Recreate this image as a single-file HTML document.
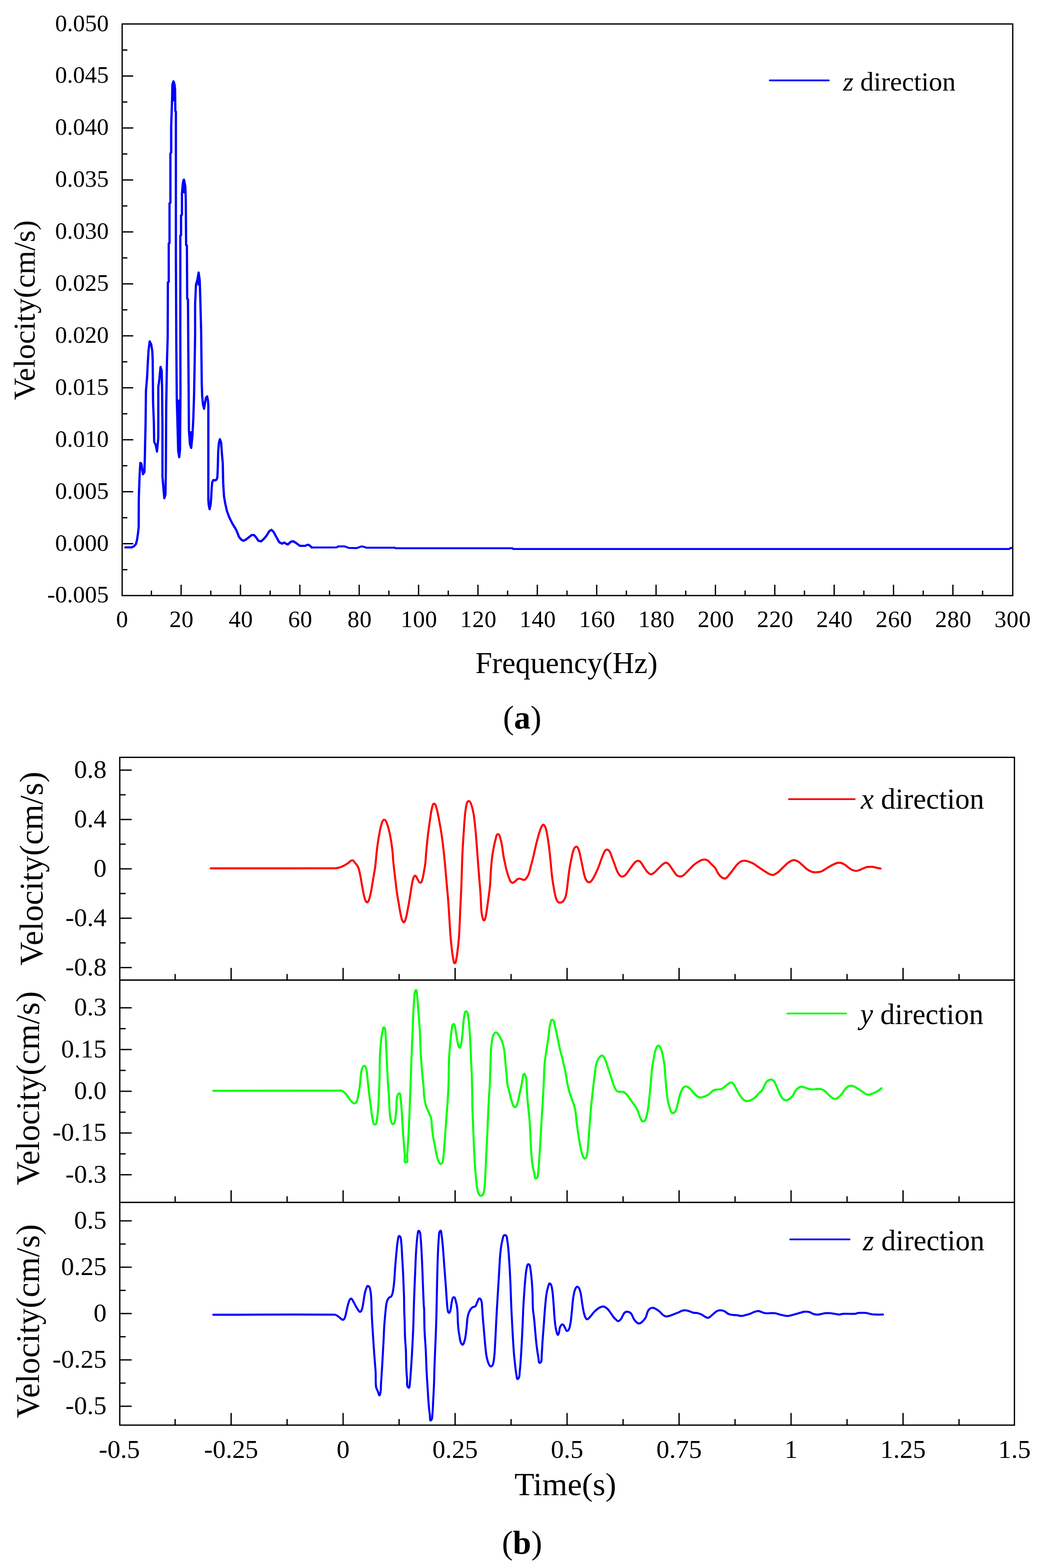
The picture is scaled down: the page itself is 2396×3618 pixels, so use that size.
<!DOCTYPE html>
<html><head><meta charset="utf-8"><style>
html,body{margin:0;padding:0;background:#fff;}
svg{display:block;}
text{font-family:'Liberation Serif','Times New Roman',serif;fill:#000;}
</style></head><body>
<svg width="2396" height="3618" viewBox="0 0 2396 3618">
<rect width="2396" height="3618" fill="#fff"/>
<polyline points="289.5,1263.0 304.4,1263.0 309.4,1260.3 314.0,1254.8 316.5,1244.6 318.5,1230.5 320.1,1216.3 320.4,1149.6 322.2,1097.7 323.9,1068.2 326.5,1070.0 330.0,1094.2 333.4,1089.0 334.3,1057.8 335.1,1016.3 336.0,979.9 336.9,902.0 339.5,870.8 341.2,836.2 342.9,808.5 345.5,787.7 349.0,794.6 351.6,810.2 352.5,832.7 353.3,928.0 355.1,973.0 355.9,1019.7 359.4,1026.7 362.4,1042.0 365.4,1009.4 365.4,893.3 368.0,874.3 370.6,846.6 373.2,855.2 374.1,896.8 375.0,979.9 375.0,1099.4 376.7,1120.2 379.3,1149.6 381.9,1141.0 382.8,1089.0 383.6,940.1 385.4,834.5 387.1,777.3 387.5,651.6 389.5,650.4 389.5,561.6 391.3,560.4 391.3,469.1 393.3,467.9 393.3,353.8 395.1,352.5 395.1,291.2 397.1,233.4 397.9,195.3 400.4,187.7 403.0,195.3 404.2,208.0 404.7,256.2 406.0,257.5 406.0,590.8 407.0,800.0 408.1,922.6 409.6,974.3 411.3,1040.0 413.7,1055.0 415.5,1037.8 416.6,904.8 416.2,770.0 416.2,543.9 417.9,542.6 417.9,497.0 420.0,495.7 420.0,446.3 422.0,423.5 424.5,414.6 427.6,428.6 428.8,459.0 429.6,565.4 431.4,566.7 432.1,689.6 433.9,690.9 434.5,783.7 435.4,892.6 436.1,994.0 438.5,1025.0 441.3,1033.5 444.2,1005.0 446.3,963.6 448.0,910.4 449.3,839.4 450.4,770.0 450.4,701.0 452.4,656.7 455.4,646.6 458.5,628.8 461.0,646.6 462.5,694.7 464.3,765.7 465.3,850.0 465.7,884.2 466.7,914.6 468.6,933.7 471.0,943.2 473.3,929.8 475.2,918.4 478.1,914.6 480.0,924.1 480.9,933.7 480.9,1154.2 481.9,1165.6 483.8,1175.1 486.2,1163.7 487.6,1146.6 488.5,1127.6 490.0,1112.4 492.3,1107.6 496.1,1108.6 499.9,1106.7 501.8,1101.0 502.8,1076.2 503.7,1042.0 505.2,1023.0 507.5,1013.5 510.4,1021.1 512.3,1047.7 514.2,1068.6 515.1,1112.4 517.0,1144.7 519.9,1161.8 523.7,1178.9 529.4,1194.1 536.0,1207.4 540.6,1215.0 543.8,1220.0 547.7,1228.3 551.5,1238.5 556.6,1244.8 561.7,1248.0 568.1,1244.8 574.4,1239.7 580.8,1234.6 586.6,1234.6 591.0,1239.7 596.1,1247.4 602.5,1249.3 608.9,1243.6 615.3,1235.9 621.6,1225.7 626.7,1222.5 631.2,1227.0 636.9,1237.2 644.6,1251.2 651.0,1254.4 656.1,1251.9 659.9,1254.4 664.4,1256.3 671.4,1250.0 676.5,1248.7 682.9,1252.5 692.4,1259.5 704.5,1259.5 709.6,1257.0 713.5,1257.6 719.8,1263.3" fill="none" stroke="#0000ff" stroke-width="5.2" stroke-linejoin="round" stroke-linecap="round"/>
<polygon points="396.5,234.0 396.5,193.0 398.2,186.5 402.2,186.5 404.0,190.0 405.0,207.0 405.8,210.0 405.8,234.0" fill="#0000ff"/>
<polygon points="420.0,446.0 420.0,420.0 421.5,414.0 422.5,412.8 425.5,412.8 427.5,415.0 429.3,428.0 429.3,446.0" fill="#0000ff"/>
<polygon points="456.0,659.0 456.0,629.0 457.5,627.0 459.5,627.0 461.0,630.0 461.5,659.0" fill="#0000ff"/>
<polygon points="408.5,922.0 417.2,922.0 417.2,1040.0 415.5,1056.0 411.5,1056.0 409.5,1040.0" fill="#0000ff"/>
<polygon points="436.2,995.0 444.5,995.0 443.5,1030.0 441.3,1034.0 438.5,1030.0" fill="#0000ff"/>
<polyline points="719.8,1263.3 777.7,1263.1 780.0,1260.8 796.1,1260.8 805.3,1264.3 823.7,1264.7 834.0,1260.8 842.0,1262.0 844.3,1263.8 912.0,1263.8 913.0,1265.0 1183.0,1265.0 1184.0,1266.7 2329.8,1266.7 2332.0,1264.6 2337.0,1264.6" fill="none" stroke="#0000ff" stroke-width="4.5" stroke-linejoin="round" stroke-linecap="round"/>
<path d="M486.3,2003.7 C581.2,2003.6 676.1,2003.9 771.0,2003.5 C774.0,2003.5 777.1,2003.3 780.0,2002.6 C783.9,2001.7 787.8,2000.3 791.5,1998.6 C795.5,1996.7 799.2,1994.3 803.0,1991.9 C806.5,1989.7 809.1,1985.0 813.2,1985.0 C816.5,1985.0 818.1,1989.4 820.2,1991.9 C822.7,1994.9 825.4,1997.9 826.9,2001.5 C829.3,2007.6 830.4,2014.2 831.7,2020.6 C833.5,2029.5 834.7,2038.5 836.4,2047.4 C837.9,2055.1 839.0,2062.9 841.2,2070.4 C842.4,2074.4 842.9,2079.8 846.6,2081.8 C848.8,2083.0 850.8,2078.5 851.7,2076.1 C854.1,2070.0 855.2,2063.4 856.5,2057.0 C858.4,2047.5 859.7,2037.9 861.3,2028.3 C862.9,2018.7 864.9,2009.2 866.1,1999.6 C868.0,1984.9 868.8,1970.1 870.7,1955.4 C872.2,1943.8 874.0,1932.1 876.2,1920.6 C877.6,1913.3 879.0,1906.0 881.6,1899.0 C882.7,1896.1 883.9,1890.8 887.0,1891.3 C890.9,1892.0 892.1,1897.4 893.5,1901.1 C896.5,1908.8 898.3,1916.9 900.0,1925.0 C902.3,1936.5 904.1,1948.1 905.5,1959.7 C906.8,1970.4 907.1,1981.2 908.2,1991.9 C909.3,2002.8 910.7,2013.6 912.0,2024.4 C913.3,2035.3 914.3,2046.2 915.8,2057.0 C917.1,2066.6 918.9,2076.1 920.6,2085.7 C922.1,2094.6 923.2,2103.6 925.4,2112.4 C926.7,2117.7 927.1,2124.0 931.1,2127.7 C932.9,2129.4 935.1,2124.3 935.9,2122.0 C938.3,2115.2 939.3,2108.0 940.7,2101.0 C942.5,2092.1 944.0,2083.2 945.5,2074.2 C947.2,2064.0 948.5,2053.8 950.3,2043.6 C951.3,2037.8 952.2,2031.9 954.1,2026.3 C954.9,2024.1 956.0,2020.1 958.3,2020.6 C961.4,2021.2 961.8,2025.8 963.7,2028.3 C965.9,2031.2 966.8,2036.9 970.4,2036.9 C973.7,2036.9 974.1,2031.4 975.1,2028.3 C977.0,2022.1 977.8,2015.5 979.0,2009.1 C980.1,2003.4 981.1,1997.7 981.8,1991.9 C982.7,1984.1 982.9,1976.2 983.6,1968.4 C984.9,1953.9 986.3,1939.4 988.0,1925.0 C989.6,1911.9 991.4,1898.9 993.4,1885.9 C994.6,1877.9 995.5,1869.8 997.7,1862.0 C998.5,1859.2 999.2,1853.8 1002.1,1854.4 C1005.7,1855.2 1006.4,1860.6 1007.5,1864.2 C1010.4,1874.1 1012.1,1884.4 1014.0,1894.6 C1016.4,1907.6 1018.7,1920.6 1020.5,1933.7 C1023.0,1952.4 1025.0,1971.2 1026.8,1990.0 C1029.6,2018.7 1032.1,2047.4 1034.4,2076.1 C1035.6,2090.7 1036.3,2105.4 1037.3,2120.0 C1038.2,2133.7 1038.9,2147.4 1040.0,2161.0 C1040.9,2172.4 1042.1,2183.7 1043.5,2195.0 C1044.3,2201.4 1045.1,2207.8 1046.5,2214.0 C1047.2,2217.0 1046.8,2222.5 1049.8,2222.5 C1052.8,2222.5 1052.3,2217.0 1053.0,2214.0 C1054.4,2207.7 1055.2,2201.4 1056.0,2195.0 C1057.4,2183.7 1058.7,2172.4 1059.5,2161.0 C1060.5,2147.4 1060.9,2133.7 1061.5,2120.0 C1062.2,2105.3 1062.8,2090.7 1063.5,2076.0 C1064.0,2064.0 1064.7,2052.0 1065.1,2040.0 C1065.8,2020.1 1066.3,2000.2 1067.0,1980.3 C1067.3,1971.3 1067.8,1962.2 1068.3,1953.2 C1069.3,1936.7 1070.3,1920.3 1071.5,1903.8 C1072.2,1894.0 1072.8,1884.2 1074.0,1874.4 C1074.9,1867.1 1075.7,1859.8 1077.9,1852.8 C1078.5,1850.8 1080.3,1847.8 1082.3,1848.3 C1085.1,1849.0 1086.4,1852.6 1087.4,1855.3 C1090.1,1862.7 1091.8,1870.5 1093.2,1878.3 C1094.8,1886.7 1095.4,1895.3 1096.4,1903.8 C1097.3,1912.3 1098.2,1920.8 1098.9,1929.3 C1099.6,1937.8 1100.2,1946.3 1100.8,1954.8 C1101.4,1963.3 1102.1,1971.8 1102.7,1980.3 C1103.3,1988.8 1104.0,1997.3 1104.6,2005.8 C1105.3,2014.3 1105.9,2022.8 1106.6,2031.3 C1107.3,2040.3 1108.3,2049.3 1108.9,2058.3 C1109.9,2073.5 1110.1,2088.7 1111.4,2103.8 C1111.8,2108.5 1112.7,2113.2 1114.0,2117.8 C1114.6,2119.9 1115.0,2123.5 1117.2,2123.5 C1119.4,2123.5 1119.8,2119.9 1120.4,2117.8 C1121.9,2112.4 1122.6,2106.8 1123.5,2101.2 C1124.7,2093.6 1125.6,2085.9 1126.7,2078.3 C1127.6,2071.9 1128.5,2065.5 1129.3,2059.1 C1130.1,2052.7 1130.9,2046.4 1131.4,2040.0 C1132.3,2028.6 1132.4,2017.2 1133.3,2005.8 C1134.1,1995.1 1135.1,1984.5 1136.5,1973.9 C1137.5,1966.6 1138.9,1959.4 1140.4,1952.2 C1141.5,1946.7 1142.5,1941.1 1144.2,1935.7 C1145.4,1931.9 1145.3,1925.3 1149.3,1924.8 C1153.0,1924.4 1153.8,1930.9 1155.0,1934.4 C1157.0,1940.1 1157.8,1946.2 1158.9,1952.2 C1160.2,1959.4 1160.8,1966.7 1162.0,1973.9 C1163.1,1980.3 1164.5,1986.7 1165.9,1993.1 C1167.1,1998.6 1168.2,2004.2 1169.7,2009.6 C1171.0,2014.4 1172.5,2019.1 1174.2,2023.7 C1175.5,2027.2 1176.5,2030.9 1178.6,2033.9 C1179.8,2035.5 1181.7,2037.3 1183.7,2037.1 C1186.3,2036.8 1188.0,2034.2 1190.1,2032.6 C1191.9,2031.2 1193.2,2029.1 1195.2,2028.1 C1196.7,2027.3 1198.6,2027.3 1200.3,2027.5 C1202.1,2027.7 1203.6,2029.0 1205.4,2029.4 C1207.3,2029.8 1209.3,2030.7 1211.1,2030.0 C1213.1,2029.3 1214.4,2027.3 1215.6,2025.6 C1217.6,2022.6 1219.5,2019.4 1220.7,2016.0 C1222.9,2009.8 1224.1,2003.3 1225.8,1996.9 C1227.5,1990.5 1229.3,1984.2 1230.9,1977.8 C1232.7,1970.2 1234.2,1962.4 1236.0,1954.8 C1237.6,1948.0 1239.3,1941.2 1241.1,1934.4 C1242.5,1929.3 1243.9,1924.1 1245.6,1919.1 C1247.0,1914.9 1248.3,1910.6 1250.5,1906.8 C1251.5,1905.1 1253.2,1902.0 1254.9,1903.0 C1258.0,1904.8 1259.1,1909.0 1260.1,1912.5 C1262.5,1920.6 1263.6,1929.1 1264.9,1937.4 C1266.4,1946.9 1267.6,1956.5 1268.7,1966.1 C1269.8,1975.7 1270.6,1985.2 1271.6,1994.8 C1272.5,2004.4 1273.2,2014.0 1274.4,2023.5 C1275.4,2031.8 1276.8,2040.1 1278.3,2048.4 C1279.7,2056.1 1280.8,2063.8 1283.0,2071.3 C1284.0,2074.7 1285.4,2078.3 1287.8,2080.9 C1289.2,2082.4 1291.6,2083.1 1293.6,2082.8 C1296.1,2082.4 1298.7,2081.0 1300.3,2079.0 C1303.0,2075.7 1304.9,2071.6 1306.0,2067.5 C1308.1,2059.4 1308.7,2050.9 1309.8,2042.6 C1310.9,2034.3 1311.6,2026.0 1312.7,2017.7 C1313.5,2011.3 1314.5,2004.9 1315.6,1998.6 C1316.7,1992.2 1318.0,1985.8 1319.4,1979.5 C1320.8,1973.1 1321.6,1966.4 1324.2,1960.4 C1325.4,1957.6 1327.3,1953.7 1330.3,1953.7 C1333.2,1953.7 1334.7,1957.7 1335.7,1960.4 C1338.1,1966.5 1339.0,1973.1 1340.4,1979.5 C1342.1,1987.1 1343.5,1994.8 1345.2,2002.4 C1346.7,2009.4 1347.8,2016.6 1350.0,2023.5 C1351.1,2026.9 1352.6,2030.2 1354.8,2033.0 C1356.1,2034.6 1358.1,2036.2 1360.1,2035.9 C1362.7,2035.5 1364.7,2033.2 1366.3,2031.1 C1369.4,2027.0 1371.6,2022.3 1373.9,2017.7 C1376.7,2012.1 1379.3,2006.3 1381.6,2000.5 C1384.4,1993.6 1386.5,1986.4 1389.2,1979.5 C1391.2,1974.3 1392.9,1968.9 1395.9,1964.2 C1397.1,1962.3 1399.1,1960.2 1401.3,1960.4 C1403.9,1960.6 1406.1,1962.9 1407.4,1965.1 C1410.1,1969.5 1411.2,1974.7 1413.1,1979.5 C1415.1,1984.6 1417.0,1989.7 1418.9,1994.8 C1420.8,1999.9 1422.2,2005.2 1424.6,2010.1 C1426.4,2013.8 1428.3,2017.8 1431.3,2020.6 C1433.0,2022.2 1435.7,2023.0 1438.0,2022.5 C1440.7,2021.9 1442.8,2019.7 1444.7,2017.7 C1447.7,2014.5 1449.8,2010.7 1452.4,2007.2 C1454.9,2003.7 1457.3,2000.1 1460.0,1996.7 C1462.1,1994.0 1464.1,1991.1 1466.7,1989.0 C1468.5,1987.6 1470.7,1986.0 1473.0,1986.2 C1475.4,1986.4 1477.6,1988.2 1479.2,1990.0 C1482.3,1993.4 1484.2,1997.7 1486.8,2001.5 C1489.3,2005.1 1491.5,2008.9 1494.5,2012.0 C1496.8,2014.3 1499.3,2017.0 1502.5,2017.4 C1505.1,2017.7 1507.6,2015.5 1509.7,2013.9 C1513.3,2011.1 1516.1,2007.6 1519.3,2004.4 C1521.9,2001.8 1524.2,1999.0 1527.0,1996.7 C1529.9,1994.3 1532.8,1991.2 1536.5,1990.6 C1539.1,1990.2 1541.8,1992.3 1543.6,1994.2 C1547.9,1998.7 1550.7,2004.4 1554.4,2009.4 C1557.2,2013.1 1559.5,2017.3 1563.1,2020.2 C1565.2,2021.8 1568.1,2022.6 1570.7,2022.4 C1573.5,2022.2 1576.1,2020.8 1578.3,2019.1 C1582.3,2016.0 1585.5,2011.9 1589.1,2008.3 C1593.4,2004.0 1597.5,1999.3 1602.1,1995.3 C1605.5,1992.4 1609.1,1989.8 1613.0,1987.7 C1616.4,1985.8 1619.9,1983.7 1623.8,1983.3 C1627.1,1982.9 1630.7,1983.9 1633.6,1985.5 C1636.7,1987.3 1638.7,1990.6 1641.2,1993.1 C1644.4,1996.4 1648.2,1999.2 1650.9,2002.9 C1653.6,2006.5 1654.8,2011.1 1657.4,2014.8 C1659.9,2018.4 1662.5,2022.0 1666.1,2024.5 C1668.6,2026.2 1672.0,2027.8 1674.8,2026.7 C1678.6,2025.3 1680.7,2021.1 1683.4,2018.0 C1687.3,2013.5 1690.6,2008.6 1694.3,2004.0 C1697.2,2000.3 1699.6,1996.3 1703.0,1993.1 C1705.8,1990.4 1709.1,1988.0 1712.7,1986.6 C1715.1,1985.7 1717.8,1985.9 1720.3,1986.2 C1723.7,1986.6 1726.9,1987.7 1730.1,1988.8 C1733.5,1990.0 1736.9,1991.4 1740.0,1993.2 C1743.8,1995.4 1747.2,1998.3 1750.8,2000.8 C1755.1,2003.8 1759.5,2006.7 1763.9,2009.5 C1767.4,2011.8 1770.9,2014.2 1774.7,2016.0 C1777.4,2017.3 1780.4,2019.1 1783.4,2018.8 C1787.3,2018.4 1791.0,2016.1 1794.2,2013.8 C1799.0,2010.4 1802.9,2005.9 1807.2,2001.9 C1811.5,1997.9 1815.4,1993.3 1820.2,1990.0 C1823.8,1987.5 1827.8,1985.0 1832.2,1984.6 C1835.6,1984.3 1839.0,1986.1 1841.9,1987.8 C1845.9,1990.1 1849.2,1993.5 1852.7,1996.5 C1856.4,1999.6 1859.6,2003.4 1863.6,2006.2 C1866.9,2008.5 1870.5,2010.5 1874.4,2011.7 C1877.9,2012.7 1881.7,2012.9 1885.3,2012.7 C1889.0,2012.5 1892.7,2012.0 1896.1,2010.6 C1900.7,2008.7 1904.8,2005.5 1909.1,2003.0 C1913.4,2000.5 1917.6,1997.6 1922.1,1995.4 C1925.6,1993.7 1929.2,1991.9 1933.0,1991.1 C1935.8,1990.5 1938.8,1990.4 1941.6,1991.1 C1944.7,1991.9 1947.6,1993.6 1950.3,1995.4 C1954.9,1998.4 1958.5,2002.6 1963.3,2005.2 C1967.3,2007.4 1971.7,2009.3 1976.3,2009.5 C1980.1,2009.7 1983.6,2007.5 1987.2,2006.2 C1991.6,2004.6 1995.6,2001.9 2000.2,2000.8 C2004.4,1999.8 2008.9,2000.0 2013.2,2000.2 C2016.2,2000.3 2019.0,2001.3 2021.9,2001.9 C2025.5,2002.6 2029.1,2003.4 2032.7,2004.1" fill="none" stroke="#ff0000" stroke-width="4.7" stroke-linejoin="round" stroke-linecap="round"/>
<path d="M492.4,2516.8 C588.8,2516.7 685.3,2516.4 781.7,2516.5 C784.3,2516.5 787.2,2516.1 789.6,2517.2 C793.3,2519.0 796.4,2521.9 799.1,2524.9 C802.2,2528.3 803.9,2532.8 806.8,2536.3 C809.8,2539.8 812.4,2544.4 816.7,2545.9 C819.0,2546.7 821.8,2544.3 823.0,2542.1 C825.5,2537.5 825.9,2532.0 826.9,2526.8 C828.4,2519.2 829.6,2511.5 830.7,2503.8 C832.3,2492.3 832.2,2480.5 834.8,2469.2 C835.6,2465.5 837.0,2460.2 840.7,2459.4 C843.7,2458.8 844.9,2464.1 845.6,2467.0 C847.7,2476.2 847.8,2485.7 848.9,2495.0 C850.2,2506.2 851.3,2517.5 852.7,2528.7 C853.9,2538.3 855.2,2547.8 856.5,2557.4 C857.7,2566.3 858.3,2575.4 860.4,2584.2 C861.3,2588.0 861.6,2594.7 865.5,2594.7 C869.3,2594.7 869.2,2587.9 869.9,2584.2 C871.6,2575.4 872.1,2566.4 872.8,2557.4 C873.7,2546.6 874.2,2535.7 874.7,2524.9 C875.2,2514.9 875.6,2505.0 875.9,2495.0 C876.4,2474.8 876.2,2454.7 877.1,2434.5 C877.7,2421.4 878.9,2408.4 880.3,2395.4 C881.0,2388.8 882.0,2382.3 883.6,2375.9 C884.1,2373.9 884.5,2369.8 886.4,2370.5 C888.9,2371.5 889.1,2375.4 889.4,2378.1 C890.7,2389.6 890.6,2401.2 891.2,2412.8 C891.9,2427.2 892.6,2441.7 893.3,2456.1 C894.0,2470.6 894.6,2485.0 895.5,2499.5 C896.1,2509.2 897.1,2519.0 897.7,2528.7 C898.5,2541.5 898.6,2554.3 899.6,2567.0 C900.1,2573.4 900.6,2579.9 902.4,2586.1 C903.2,2589.0 904.3,2594.3 907.2,2593.7 C910.7,2593.0 911.3,2587.7 912.0,2584.2 C913.9,2575.4 914.1,2566.4 914.9,2557.4 C915.5,2549.7 914.8,2542.0 916.2,2534.4 C916.9,2530.3 917.2,2523.9 921.2,2523.0 C924.5,2522.2 923.9,2529.2 924.4,2532.5 C925.9,2542.6 926.5,2552.9 927.3,2563.1 C928.1,2574.0 928.5,2584.8 929.2,2595.7 C929.9,2607.1 930.6,2618.6 931.5,2630.0 C932.4,2641.7 933.3,2653.4 934.5,2665.0 C935.1,2670.8 931.3,2682.2 937.1,2682.2 C942.9,2682.2 939.1,2670.8 939.7,2665.0 C940.9,2653.4 941.6,2641.7 942.3,2630.0 C943.2,2615.4 943.8,2600.7 944.5,2586.1 C945.2,2570.2 945.8,2554.2 946.4,2538.3 C946.9,2525.5 947.3,2512.8 947.8,2500.0 C948.4,2481.8 949.0,2463.5 949.7,2445.3 C950.4,2427.2 951.2,2409.2 951.9,2391.1 C952.6,2373.0 953.2,2355.0 954.1,2336.9 C954.6,2326.1 955.1,2315.2 956.2,2304.4 C956.9,2297.8 955.6,2290.2 959.5,2284.9 C961.7,2281.9 962.2,2292.0 962.7,2295.7 C964.4,2309.4 964.9,2323.2 966.0,2336.9 C967.1,2351.4 968.4,2365.8 969.2,2380.3 C970.2,2398.4 970.4,2416.4 971.4,2434.5 C972.2,2449.0 973.5,2463.4 974.7,2477.8 C975.6,2488.6 977.0,2499.5 977.9,2510.3 C978.4,2516.4 978.2,2522.6 979.0,2528.7 C979.9,2535.8 980.9,2542.9 982.8,2549.7 C984.7,2556.3 987.8,2562.5 990.4,2568.9 C992.0,2572.8 994.4,2576.3 995.2,2580.4 C996.6,2587.3 996.3,2594.4 997.1,2601.4 C997.9,2609.1 998.8,2616.8 1000.0,2624.4 C1001.0,2630.8 1002.6,2637.1 1003.8,2643.5 C1005.4,2651.8 1006.5,2660.2 1008.6,2668.4 C1009.7,2673.0 1011.2,2677.5 1013.4,2681.7 C1014.3,2683.4 1015.9,2686.0 1017.8,2685.6 C1020.1,2685.1 1021.5,2682.1 1022.0,2679.8 C1023.9,2671.1 1024.1,2662.0 1024.9,2653.1 C1026.0,2640.3 1026.8,2627.6 1027.8,2614.8 C1028.7,2602.0 1029.6,2589.3 1030.6,2576.5 C1031.5,2563.8 1032.7,2551.0 1033.5,2538.3 C1034.3,2525.5 1035.0,2512.8 1035.4,2500.0 C1036.0,2481.8 1035.7,2463.5 1036.5,2445.3 C1037.1,2430.8 1038.4,2416.3 1039.7,2401.9 C1040.6,2392.5 1041.4,2383.0 1043.0,2373.7 C1043.7,2370.0 1042.9,2363.9 1046.6,2362.9 C1049.7,2362.0 1049.9,2368.5 1050.6,2371.6 C1052.6,2380.1 1053.3,2389.0 1054.9,2397.6 C1056.0,2403.4 1056.8,2409.4 1058.8,2415.0 C1059.2,2416.2 1061.2,2418.2 1061.8,2417.1 C1064.2,2412.5 1065.0,2407.1 1065.7,2401.9 C1067.4,2390.4 1067.8,2378.8 1069.0,2367.2 C1069.9,2358.5 1070.4,2349.7 1072.2,2341.2 C1072.8,2338.4 1073.3,2332.9 1076.1,2333.6 C1079.6,2334.5 1079.9,2339.9 1080.5,2343.4 C1082.6,2356.3 1083.3,2369.4 1084.2,2382.4 C1085.6,2403.3 1086.4,2424.3 1087.4,2445.3 C1088.2,2463.5 1089.1,2481.8 1089.6,2500.0 C1090.1,2519.1 1090.0,2538.3 1090.5,2557.4 C1090.9,2573.3 1091.8,2589.3 1092.4,2605.2 C1093.0,2621.1 1093.5,2637.1 1094.3,2653.0 C1095.1,2669.0 1096.0,2685.0 1097.2,2700.9 C1098.2,2713.7 1099.2,2726.4 1101.0,2739.1 C1101.7,2744.3 1102.6,2749.7 1104.9,2754.4 C1106.0,2756.6 1108.1,2759.6 1110.6,2759.2 C1113.5,2758.7 1115.6,2755.3 1116.4,2752.5 C1118.5,2745.1 1118.6,2737.3 1119.2,2729.6 C1120.2,2716.9 1120.5,2704.1 1121.1,2691.3 C1121.7,2678.5 1122.3,2665.8 1123.0,2653.0 C1123.6,2640.3 1124.4,2627.5 1125.0,2614.8 C1125.7,2598.9 1126.2,2582.9 1126.9,2567.0 C1127.5,2554.2 1128.1,2541.5 1128.8,2528.7 C1129.3,2519.1 1130.3,2509.6 1130.7,2500.0 C1131.8,2474.5 1132.0,2449.0 1133.4,2423.6 C1133.9,2414.2 1134.8,2404.7 1136.6,2395.4 C1137.3,2391.6 1138.7,2387.8 1141.0,2384.6 C1142.0,2383.1 1144.2,2381.7 1145.9,2382.4 C1148.6,2383.5 1150.2,2386.4 1151.8,2388.9 C1154.4,2393.0 1156.6,2397.3 1158.3,2401.9 C1160.6,2408.3 1162.6,2414.8 1163.7,2421.5 C1165.5,2432.9 1165.9,2444.6 1167.0,2456.1 C1168.1,2467.0 1169.2,2477.8 1170.2,2488.7 C1170.5,2492.5 1170.2,2496.3 1170.9,2500.0 C1172.1,2506.5 1174.1,2512.7 1175.7,2519.1 C1177.6,2526.8 1178.7,2534.7 1181.4,2542.1 C1183.1,2546.6 1184.0,2553.8 1188.7,2554.5 C1192.7,2555.1 1193.5,2547.8 1194.8,2544.0 C1197.1,2537.2 1198.1,2530.0 1199.6,2523.0 C1201.3,2515.3 1202.9,2507.7 1204.4,2500.0 C1205.7,2493.3 1206.3,2486.5 1208.2,2480.0 C1208.5,2478.9 1210.2,2476.9 1211.0,2477.8 C1213.0,2480.1 1213.1,2483.6 1214.0,2486.5 C1214.4,2487.6 1214.8,2488.8 1214.9,2490.0 C1216.0,2506.1 1216.4,2522.2 1217.7,2538.3 C1219.0,2554.3 1221.3,2570.1 1222.5,2586.1 C1223.9,2605.2 1224.2,2624.4 1225.4,2643.5 C1226.2,2656.2 1226.8,2669.0 1228.3,2681.7 C1229.3,2690.1 1231.0,2698.4 1233.1,2706.6 C1234.2,2710.9 1234.0,2721.4 1237.8,2719.1 C1243.2,2715.9 1241.8,2707.1 1242.6,2700.9 C1244.3,2688.2 1244.6,2675.4 1245.5,2662.6 C1246.6,2646.7 1247.4,2630.7 1248.4,2614.8 C1249.3,2598.9 1250.3,2582.9 1251.2,2567.0 C1252.2,2551.0 1253.2,2535.1 1254.1,2519.1 C1254.6,2511.1 1254.9,2503.0 1255.3,2495.0 C1255.9,2482.0 1255.9,2469.0 1257.0,2456.1 C1257.9,2445.2 1259.8,2434.4 1261.3,2423.6 C1262.6,2414.2 1264.3,2404.8 1265.6,2395.4 C1267.2,2384.6 1267.5,2373.6 1270.0,2362.9 C1270.8,2359.3 1271.9,2351.7 1275.4,2353.1 C1280.1,2355.0 1279.4,2362.4 1280.8,2367.2 C1283.0,2375.1 1284.5,2383.1 1286.2,2391.1 C1288.1,2399.8 1289.6,2408.5 1291.6,2417.1 C1293.6,2425.8 1296.1,2434.4 1298.2,2443.1 C1300.5,2452.5 1302.8,2461.8 1304.7,2471.3 C1306.6,2480.8 1307.7,2490.5 1309.6,2500.0 C1311.2,2507.7 1313.0,2515.4 1315.3,2523.0 C1317.5,2530.1 1320.7,2536.9 1323.0,2544.0 C1324.9,2549.7 1326.7,2555.3 1327.8,2561.2 C1329.3,2569.4 1329.6,2577.8 1330.6,2586.1 C1331.8,2595.7 1333.0,2605.3 1334.4,2614.8 C1335.5,2622.5 1336.9,2630.1 1338.3,2637.7 C1339.8,2645.4 1340.8,2653.2 1343.1,2660.7 C1344.5,2665.1 1345.3,2671.0 1349.4,2673.1 C1351.9,2674.4 1353.8,2669.1 1354.5,2666.4 C1356.5,2659.0 1356.7,2651.2 1357.4,2643.5 C1358.6,2630.8 1359.3,2618.0 1360.3,2605.2 C1361.3,2592.5 1362.1,2579.7 1363.2,2567.0 C1364.3,2554.2 1365.6,2541.5 1367.0,2528.7 C1368.2,2517.8 1369.4,2506.9 1370.8,2496.0 C1372.5,2482.7 1373.4,2469.2 1376.2,2456.1 C1377.4,2450.7 1379.6,2445.5 1382.7,2441.0 C1384.5,2438.4 1387.4,2434.3 1390.3,2435.5 C1394.7,2437.4 1396.0,2443.2 1397.9,2447.5 C1400.7,2453.8 1402.2,2460.5 1404.4,2467.0 C1406.6,2473.5 1408.7,2480.0 1410.9,2486.5 C1413.1,2493.0 1414.8,2499.6 1417.4,2506.0 C1419.0,2509.9 1420.6,2513.9 1423.3,2517.1 C1424.6,2518.6 1426.8,2519.0 1428.7,2519.3 C1431.9,2519.8 1435.3,2518.3 1438.4,2519.3 C1441.4,2520.2 1443.9,2522.4 1446.0,2524.7 C1449.4,2528.3 1451.8,2532.6 1454.7,2536.6 C1457.6,2540.6 1460.6,2544.4 1463.4,2548.5 C1466.1,2552.4 1469.0,2556.2 1471.0,2560.5 C1473.3,2565.3 1474.3,2570.7 1476.4,2575.6 C1478.0,2579.3 1479.4,2583.2 1481.8,2586.5 C1482.5,2587.4 1483.9,2587.9 1485.0,2587.6 C1486.8,2587.1 1488.7,2586.0 1489.4,2584.3 C1492.1,2578.1 1493.5,2571.4 1494.8,2564.8 C1496.4,2556.9 1497.2,2548.9 1498.1,2540.9 C1499.3,2530.1 1500.3,2519.2 1501.3,2508.4 C1502.1,2499.7 1502.7,2491.1 1503.5,2482.4 C1504.2,2475.2 1504.6,2467.9 1505.6,2460.7 C1506.4,2454.9 1507.8,2449.2 1508.9,2443.4 C1510.0,2437.6 1510.7,2431.7 1512.2,2426.0 C1513.2,2422.3 1514.4,2418.4 1516.5,2415.2 C1517.4,2413.9 1519.5,2412.1 1520.8,2413.0 C1523.6,2414.9 1525.0,2418.5 1526.2,2421.7 C1528.3,2427.3 1529.4,2433.2 1530.6,2439.0 C1531.9,2445.5 1533.1,2452.0 1533.8,2458.5 C1534.9,2467.9 1535.2,2477.3 1536.0,2486.7 C1536.7,2495.4 1537.3,2504.0 1538.2,2512.7 C1539.1,2521.4 1539.9,2530.2 1541.4,2538.8 C1542.4,2544.7 1544.0,2550.4 1545.8,2556.1 C1547.0,2559.8 1547.7,2563.9 1550.1,2567.0 C1551.1,2568.3 1553.4,2568.7 1554.9,2568.0 C1557.1,2567.0 1558.9,2564.8 1559.9,2562.6 C1562.1,2557.8 1562.9,2552.5 1564.2,2547.4 C1566.1,2540.2 1567.4,2532.9 1569.6,2525.8 C1571.0,2521.3 1572.6,2516.8 1575.0,2512.7 C1576.3,2510.5 1578.2,2508.4 1580.5,2507.3 C1582.1,2506.5 1584.2,2506.7 1585.9,2507.3 C1588.4,2508.2 1590.5,2509.9 1592.4,2511.7 C1595.2,2514.3 1597.4,2517.5 1600.0,2520.3 C1602.8,2523.3 1605.2,2526.7 1608.6,2529.0 C1611.1,2530.8 1614.2,2532.1 1617.3,2532.3 C1620.3,2532.5 1623.2,2531.2 1626.0,2530.1 C1629.8,2528.6 1633.5,2527.0 1636.8,2524.7 C1640.4,2522.2 1642.8,2518.1 1646.6,2516.0 C1649.5,2514.4 1653.0,2514.4 1656.3,2513.8 C1659.5,2513.3 1663.1,2514.1 1666.1,2512.7 C1670.3,2510.7 1673.1,2506.7 1676.9,2504.1 C1680.4,2501.7 1683.6,2497.9 1687.8,2497.6 C1690.6,2497.4 1692.6,2500.7 1694.3,2503.0 C1697.4,2507.3 1699.2,2512.5 1701.9,2517.1 C1704.6,2521.9 1707.2,2526.8 1710.5,2531.2 C1712.6,2534.1 1715.1,2536.8 1718.1,2538.8 C1720.0,2540.1 1722.3,2540.9 1724.6,2540.9 C1727.2,2540.9 1729.8,2539.9 1732.2,2538.8 C1736.0,2537.0 1739.9,2535.0 1743.1,2532.3 C1746.4,2529.5 1748.7,2525.7 1751.7,2522.5 C1754.2,2519.9 1757.5,2517.9 1759.5,2514.9 C1763.1,2509.5 1764.6,2503.0 1768.2,2497.6 C1769.8,2495.3 1772.2,2493.5 1774.7,2492.2 C1776.7,2491.2 1779.1,2490.4 1781.2,2491.1 C1783.9,2492.0 1786.1,2494.2 1787.7,2496.5 C1790.6,2500.8 1792.1,2505.9 1794.2,2510.6 C1796.4,2515.6 1798.1,2520.9 1800.7,2525.8 C1802.5,2529.3 1804.3,2532.9 1807.2,2535.5 C1809.2,2537.4 1812.0,2538.8 1814.8,2538.8 C1817.6,2538.8 1820.2,2537.1 1822.4,2535.5 C1825.3,2533.4 1827.8,2530.8 1830.0,2527.9 C1832.2,2524.9 1833.3,2521.2 1835.4,2518.2 C1837.3,2515.5 1839.3,2512.6 1841.9,2510.6 C1844.1,2508.9 1846.7,2507.5 1849.5,2507.3 C1852.5,2507.1 1855.3,2508.7 1858.2,2509.5 C1861.5,2510.5 1864.6,2511.9 1867.9,2512.7 C1870.7,2513.4 1873.7,2513.8 1876.6,2513.8 C1879.5,2513.8 1882.4,2512.8 1885.3,2512.7 C1888.9,2512.6 1892.6,2512.2 1896.1,2513.2 C1899.3,2514.1 1902.2,2516.1 1904.8,2518.2 C1908.0,2520.7 1910.5,2524.0 1913.5,2526.8 C1915.9,2529.1 1918.1,2531.6 1921.0,2533.3 C1923.3,2534.6 1926.0,2535.7 1928.6,2535.5 C1931.0,2535.3 1933.2,2533.8 1935.1,2532.3 C1937.9,2530.1 1940.4,2527.5 1942.7,2524.7 C1945.5,2521.3 1947.5,2517.2 1950.3,2513.8 C1952.2,2511.4 1954.1,2508.8 1956.8,2507.3 C1959.4,2505.8 1962.5,2505.0 1965.5,2505.2 C1968.6,2505.4 1971.4,2507.0 1974.2,2508.4 C1977.2,2509.9 1979.9,2512.0 1982.8,2513.8 C1985.7,2515.6 1988.6,2517.4 1991.5,2519.3 C1994.1,2521.0 1996.3,2523.4 1999.1,2524.7 C2001.1,2525.6 2003.4,2526.0 2005.6,2525.8 C2008.2,2525.6 2010.7,2524.5 2013.2,2523.6 C2016.2,2522.5 2019.1,2521.1 2021.9,2519.7 C2024.1,2518.6 2026.3,2517.4 2028.4,2516.0 C2030.7,2514.5 2032.7,2512.7 2034.9,2511.0" fill="none" stroke="#00ff00" stroke-width="4.7" stroke-linejoin="round" stroke-linecap="round"/>
<path d="M492.3,3033.6 C585.9,3033.6 679.4,3032.5 773.0,3033.5 C775.4,3033.5 777.5,3035.3 779.5,3036.6 C781.9,3038.2 783.8,3040.4 786.1,3042.1 C787.8,3043.3 789.4,3045.5 791.5,3045.3 C793.5,3045.1 795.0,3042.9 795.8,3041.0 C798.0,3035.4 798.7,3029.4 800.2,3023.6 C801.6,3017.8 802.5,3011.9 804.5,3006.3 C805.8,3002.8 806.3,2997.6 809.9,2996.5 C812.6,2995.7 813.8,3000.6 815.4,3003.0 C817.9,3006.8 819.6,3011.0 821.9,3014.9 C823.6,3017.9 825.2,3020.9 827.3,3023.6 C828.4,3025.0 830.0,3027.7 831.6,3026.9 C834.2,3025.6 835.1,3022.1 836.0,3019.3 C837.7,3013.7 838.2,3007.7 839.2,3001.9 C840.3,2995.4 841.0,2988.8 842.5,2982.4 C843.5,2978.0 844.9,2973.6 846.8,2969.4 C847.3,2968.4 848.3,2966.9 849.4,2967.2 C851.3,2967.8 852.8,2969.6 853.4,2971.5 C855.3,2977.8 856.1,2984.5 856.6,2991.1 C857.8,3006.8 857.6,3022.6 858.4,3038.3 C859.2,3054.4 860.3,3070.4 861.3,3086.5 C862.2,3100.7 863.2,3114.8 864.2,3129.0 C865.1,3141.1 866.3,3153.2 867.0,3165.4 C867.6,3176.9 866.7,3188.5 868.0,3200.0 C868.4,3203.4 870.4,3206.3 871.8,3209.4 C873.3,3212.7 875.1,3222.3 876.6,3219.0 C880.3,3210.8 878.7,3201.2 879.5,3192.2 C880.3,3182.6 880.8,3173.1 881.4,3163.5 C882.1,3152.7 882.7,3141.8 883.3,3131.0 C884.0,3119.5 884.6,3108.0 885.2,3096.5 C885.9,3083.8 886.2,3071.0 887.1,3058.3 C888.1,3043.8 889.4,3029.4 891.0,3015.0 C891.5,3010.6 892.1,3006.1 893.5,3001.9 C894.4,2999.1 895.9,2996.5 897.9,2994.3 C899.3,2992.8 902.1,2992.8 903.3,2991.1 C905.1,2988.6 905.9,2985.4 906.5,2982.4 C908.1,2974.5 909.0,2966.5 909.8,2958.5 C910.9,2947.7 911.2,2936.8 912.0,2925.9 C913.0,2913.6 914.0,2901.3 915.2,2889.0 C916.1,2879.6 916.7,2870.1 918.5,2860.8 C919.1,2857.7 919.6,2850.5 922.4,2852.1 C926.3,2854.4 925.5,2860.7 926.1,2865.2 C927.5,2876.7 927.6,2888.3 928.3,2899.9 C929.0,2912.2 929.8,2924.5 930.4,2936.8 C931.3,2954.9 932.0,2973.0 932.6,2991.1 C932.9,3002.4 932.8,3013.7 933.1,3025.0 C933.3,3032.9 933.8,3040.8 934.0,3048.7 C934.4,3061.5 934.4,3074.2 935.0,3087.0 C935.4,3096.6 936.5,3106.1 936.9,3115.7 C937.4,3128.4 937.3,3141.2 937.8,3153.9 C938.2,3163.5 938.7,3173.1 939.7,3182.6 C940.3,3189.0 937.7,3197.5 942.6,3201.7 C946.1,3204.7 945.7,3193.0 946.4,3188.4 C947.6,3180.2 947.8,3171.8 948.4,3163.5 C949.1,3153.9 949.7,3144.4 950.3,3134.8 C951.0,3123.3 951.6,3111.9 952.2,3100.4 C952.9,3086.4 953.6,3072.3 954.1,3058.3 C954.6,3045.5 954.7,3032.8 955.1,3020.0 C955.5,3006.7 956.0,2993.5 956.5,2980.2 C957.2,2962.1 957.9,2944.0 958.7,2925.9 C959.3,2911.4 959.8,2896.9 960.8,2882.5 C961.6,2870.9 962.3,2859.3 964.1,2847.8 C964.5,2845.1 965.0,2838.7 967.3,2840.2 C970.7,2842.5 970.2,2848.0 970.6,2852.1 C972.4,2869.4 973.0,2886.8 973.9,2904.2 C974.8,2922.3 975.3,2940.4 976.0,2958.5 C976.7,2976.6 977.3,2994.7 978.2,3012.8 C978.3,3015.2 978.9,3017.6 979.0,3020.0 C979.5,3035.9 979.3,3051.9 979.9,3067.8 C980.5,3083.8 982.0,3099.7 982.8,3115.7 C983.6,3131.6 983.9,3147.6 984.7,3163.5 C985.5,3179.4 986.6,3195.4 987.6,3211.3 C988.2,3220.9 988.7,3230.4 989.5,3240.0 C990.3,3249.0 991.2,3257.9 992.4,3266.8 C992.9,3270.3 991.7,3279.3 994.7,3277.3 C998.8,3274.6 997.5,3267.9 998.1,3263.0 C999.3,3252.2 999.4,3241.3 1000.0,3230.4 C1000.7,3217.7 1001.4,3204.9 1001.9,3192.2 C1002.4,3179.4 1002.5,3166.7 1002.9,3153.9 C1003.4,3138.0 1004.2,3122.0 1004.8,3106.1 C1005.4,3090.2 1006.2,3074.2 1006.7,3058.3 C1007.1,3045.5 1007.4,3032.8 1007.7,3020.0 C1008.2,2995.9 1008.6,2971.7 1009.2,2947.6 C1009.6,2929.5 1010.1,2911.5 1010.8,2893.4 C1011.3,2881.1 1011.7,2868.8 1012.9,2856.5 C1013.5,2851.0 1012.3,2844.1 1016.2,2840.2 C1018.6,2837.8 1018.9,2846.6 1019.4,2850.0 C1021.1,2860.8 1021.8,2871.7 1022.7,2882.5 C1023.9,2897.0 1024.8,2911.4 1025.9,2925.9 C1027.0,2940.4 1028.2,2954.9 1029.2,2969.4 C1030.0,2980.2 1030.5,2991.1 1031.4,3001.9 C1032.0,3009.1 1032.2,3016.5 1033.6,3023.6 C1034.0,3025.7 1034.8,3029.6 1036.8,3029.0 C1039.4,3028.2 1039.5,3024.2 1040.1,3021.5 C1041.6,3015.1 1041.6,3008.3 1043.3,3001.9 C1044.1,2998.8 1044.5,2993.2 1047.7,2993.2 C1050.9,2993.2 1051.1,2998.8 1052.0,3001.9 C1053.7,3007.8 1054.9,3013.9 1055.5,3020.0 C1056.7,3032.7 1056.4,3045.6 1057.4,3058.3 C1058.0,3066.0 1058.7,3073.7 1060.3,3081.2 C1061.8,3088.4 1061.2,3097.3 1066.6,3102.3 C1069.4,3104.9 1071.7,3096.3 1072.7,3092.7 C1075.0,3084.6 1075.5,3076.1 1076.5,3067.8 C1077.7,3058.3 1077.8,3048.6 1079.4,3039.1 C1080.2,3034.5 1081.5,3030.0 1083.5,3025.8 C1085.1,3022.5 1087.3,3019.5 1090.0,3017.1 C1092.1,3015.3 1095.7,3015.7 1097.6,3013.6 C1100.0,3010.9 1100.2,3006.9 1101.9,3003.8 C1103.3,3001.1 1103.9,2996.2 1106.9,2996.2 C1109.9,2996.2 1110.6,3001.0 1111.7,3003.8 C1112.5,3005.7 1112.3,3007.9 1112.5,3010.0 C1113.2,3019.6 1113.7,3029.1 1114.4,3038.7 C1115.3,3049.9 1116.3,3061.2 1117.3,3072.4 C1118.3,3083.6 1119.1,3094.9 1120.2,3106.1 C1121.0,3113.8 1121.6,3121.4 1123.0,3129.0 C1124.1,3134.9 1125.4,3140.8 1127.8,3146.3 C1129.0,3149.0 1130.6,3153.0 1133.6,3153.0 C1136.3,3153.0 1137.6,3148.9 1138.4,3146.3 C1140.2,3140.1 1140.6,3133.5 1141.2,3127.1 C1142.2,3116.9 1142.5,3106.7 1143.1,3096.5 C1143.8,3083.8 1144.4,3071.0 1145.0,3058.3 C1145.7,3045.5 1146.3,3032.8 1147.0,3020.0 C1147.5,3011.7 1148.0,3003.4 1148.5,2995.1 C1149.6,2977.0 1150.7,2959.0 1151.8,2940.9 C1152.8,2924.3 1153.4,2907.7 1155.0,2891.1 C1155.9,2881.6 1157.0,2872.1 1159.4,2862.9 C1160.6,2858.2 1161.1,2849.1 1165.9,2849.9 C1171.2,2850.8 1170.3,2859.7 1171.3,2865.0 C1173.3,2875.7 1173.8,2886.7 1174.6,2897.6 C1176.0,2915.6 1176.9,2933.7 1177.8,2951.8 C1178.9,2974.5 1179.4,2997.3 1180.4,3020.0 C1181.0,3032.8 1181.7,3045.5 1182.4,3058.3 C1183.0,3069.8 1183.6,3081.2 1184.3,3092.7 C1184.9,3102.3 1185.4,3111.8 1186.2,3121.4 C1187.0,3131.0 1188.0,3140.5 1189.1,3150.1 C1189.9,3157.1 1190.5,3164.2 1191.9,3171.1 C1192.7,3174.8 1192.7,3183.9 1195.7,3181.7 C1200.2,3178.4 1198.9,3170.9 1199.6,3165.4 C1201.1,3154.0 1201.6,3142.5 1202.4,3131.0 C1203.2,3119.5 1203.8,3108.0 1204.4,3096.5 C1205.1,3083.8 1205.7,3071.0 1206.3,3058.3 C1206.9,3045.5 1207.2,3032.8 1207.8,3020.0 C1208.2,3011.7 1208.7,3003.4 1209.3,2995.1 C1210.3,2980.7 1211.1,2966.2 1212.5,2951.8 C1213.3,2943.1 1213.9,2934.3 1215.8,2925.8 C1216.5,2922.6 1217.0,2916.3 1220.1,2917.1 C1223.9,2918.0 1223.8,2924.1 1224.4,2927.9 C1226.7,2943.0 1227.8,2958.3 1228.8,2973.5 C1229.8,2989.0 1229.3,3004.5 1230.2,3020.0 C1230.7,3028.3 1232.3,3036.6 1233.1,3044.9 C1234.2,3055.7 1234.9,3066.6 1235.9,3077.4 C1236.8,3087.0 1237.6,3096.6 1238.8,3106.1 C1239.8,3114.4 1240.9,3122.8 1242.6,3131.0 C1243.6,3135.6 1242.6,3146.5 1246.8,3144.4 C1252.0,3141.7 1249.6,3132.9 1250.3,3127.1 C1251.4,3116.9 1251.5,3106.7 1252.2,3096.5 C1253.1,3083.8 1254.2,3071.0 1255.1,3058.3 C1256.1,3045.5 1256.8,3032.8 1257.9,3020.0 C1258.9,3008.8 1259.7,2997.6 1261.3,2986.5 C1262.2,2980.2 1263.6,2974.0 1265.6,2968.0 C1266.4,2965.6 1267.4,2960.1 1269.5,2961.5 C1273.1,2963.8 1273.5,2969.3 1274.3,2973.5 C1276.3,2984.2 1276.7,2995.2 1277.6,3006.0 C1278.8,3020.4 1279.3,3034.9 1280.8,3049.3 C1281.6,3057.3 1282.7,3065.4 1284.7,3073.2 C1285.3,3075.6 1286.9,3081.7 1288.4,3079.7 C1291.9,3074.9 1290.4,3067.9 1292.7,3062.4 C1293.8,3059.8 1295.4,3055.9 1298.2,3055.9 C1301.0,3055.9 1301.9,3060.1 1303.6,3062.4 C1305.7,3065.2 1306.0,3071.6 1309.4,3071.0 C1313.5,3070.2 1314.5,3064.2 1315.5,3060.2 C1318.1,3049.6 1318.5,3038.6 1319.8,3027.7 C1321.1,3016.9 1321.5,3005.9 1323.1,2995.1 C1324.1,2988.5 1325.0,2981.8 1327.4,2975.6 C1328.5,2972.9 1330.6,2968.1 1333.3,2969.1 C1337.2,2970.5 1338.3,2976.0 1339.4,2980.0 C1341.8,2988.5 1342.2,2997.3 1343.7,3006.0 C1345.1,3013.9 1345.8,3022.0 1348.0,3029.8 C1349.4,3034.8 1350.1,3041.2 1354.5,3043.9 C1357.1,3045.5 1359.9,3040.7 1362.1,3038.5 C1365.7,3034.9 1368.3,3030.2 1371.9,3026.6 C1375.2,3023.3 1378.7,3020.2 1382.7,3017.9 C1385.7,3016.2 1389.1,3014.3 1392.5,3014.7 C1396.2,3015.1 1399.4,3017.7 1402.2,3020.1 C1405.3,3022.8 1407.4,3026.5 1409.8,3029.8 C1412.4,3033.4 1414.7,3037.2 1417.4,3040.7 C1418.4,3042.0 1419.8,3042.9 1421.0,3044.0 C1422.8,3045.5 1424.2,3048.4 1426.5,3048.4 C1429.1,3048.4 1431.4,3046.1 1433.0,3044.1 C1436.6,3039.5 1437.7,3033.2 1441.7,3028.9 C1443.5,3027.0 1446.7,3026.3 1449.3,3026.7 C1452.2,3027.1 1455.1,3028.8 1456.9,3031.1 C1460.0,3034.9 1460.8,3040.0 1463.4,3044.1 C1465.2,3046.9 1467.3,3049.7 1469.9,3051.7 C1471.6,3053.0 1473.8,3054.2 1475.9,3053.8 C1478.6,3053.3 1480.9,3051.4 1482.9,3049.5 C1485.9,3046.6 1488.6,3043.4 1490.5,3039.7 C1493.0,3035.0 1493.4,3029.3 1495.9,3024.6 C1497.1,3022.3 1499.1,3020.4 1501.3,3019.1 C1503.2,3018.0 1505.6,3017.3 1507.8,3017.6 C1510.6,3018.0 1513.0,3019.9 1515.4,3021.3 C1518.1,3022.9 1520.6,3024.7 1523.0,3026.7 C1525.7,3029.0 1527.7,3032.2 1530.6,3034.3 C1532.8,3035.9 1535.4,3037.4 1538.2,3037.6 C1541.5,3037.8 1544.7,3036.4 1547.9,3035.4 C1551.6,3034.2 1555.2,3032.5 1558.8,3031.1 C1561.7,3030.0 1564.6,3029.0 1567.4,3027.8 C1569.6,3026.8 1571.6,3025.3 1574.0,3024.6 C1576.8,3023.8 1579.7,3023.3 1582.6,3023.5 C1585.6,3023.7 1588.5,3024.7 1591.3,3025.6 C1594.3,3026.5 1597.0,3028.2 1600.0,3028.9 C1603.5,3029.7 1607.3,3029.2 1610.8,3030.0 C1613.8,3030.7 1616.7,3031.8 1619.5,3033.2 C1622.6,3034.7 1625.1,3037.2 1628.2,3038.7 C1630.2,3039.7 1632.5,3041.2 1634.7,3040.8 C1637.3,3040.4 1639.2,3038.1 1641.2,3036.5 C1644.2,3034.1 1646.8,3031.2 1649.8,3028.9 C1652.2,3027.1 1654.6,3025.1 1657.4,3024.1 C1659.8,3023.2 1662.5,3023.3 1665.0,3023.5 C1667.6,3023.8 1670.2,3024.4 1672.6,3025.6 C1675.4,3027.0 1677.4,3029.7 1680.2,3031.1 C1682.9,3032.4 1685.9,3033.2 1688.9,3033.7 C1693.2,3034.4 1697.6,3034.3 1701.9,3034.8 C1705.2,3035.2 1708.3,3036.6 1711.6,3036.5 C1714.9,3036.4 1718.2,3035.1 1721.4,3034.3 C1725.0,3033.3 1728.7,3032.4 1732.2,3031.1 C1735.2,3030.0 1737.9,3028.2 1740.9,3027.2 C1744.1,3026.2 1747.5,3024.8 1750.8,3025.2 C1756.1,3025.8 1760.7,3029.3 1766.0,3030.0 C1773.2,3030.9 1780.5,3029.2 1787.7,3030.0 C1793.6,3030.7 1799.2,3033.1 1805.0,3034.3 C1809.3,3035.2 1813.7,3036.6 1818.1,3036.5 C1822.5,3036.4 1826.8,3034.8 1831.1,3033.7 C1835.5,3032.6 1839.7,3031.2 1844.1,3030.0 C1848.4,3028.8 1852.7,3027.2 1857.1,3026.7 C1860.7,3026.3 1864.4,3026.5 1867.9,3027.4 C1871.7,3028.4 1875.0,3031.2 1878.8,3032.2 C1882.3,3033.1 1886.0,3033.5 1889.6,3033.2 C1894.8,3032.8 1899.7,3030.6 1904.8,3030.0 C1908.4,3029.6 1912.0,3029.8 1915.6,3030.0 C1919.3,3030.3 1922.9,3031.0 1926.5,3031.5 C1930.1,3032.0 1933.7,3033.2 1937.3,3033.2 C1940.3,3033.2 1943.0,3031.6 1946.0,3031.5 C1955.4,3031.1 1964.8,3032.0 1974.2,3031.5 C1976.5,3031.4 1978.4,3029.7 1980.7,3029.5 C1986.8,3029.0 1993.1,3029.0 1999.2,3029.5 C2003.2,3029.9 2007.0,3031.6 2011.0,3032.2 C2014.6,3032.8 2018.3,3033.1 2021.9,3033.2 C2027.3,3033.4 2032.7,3033.2 2038.1,3033.2" fill="none" stroke="#0000ff" stroke-width="4.7" stroke-linejoin="round" stroke-linecap="round"/>
<text x="251.00" y="1390.40" font-size="55" text-anchor="end" >-0.005</text>
<line x1="282.00" y1="1314.45" x2="294.00" y2="1314.45" stroke="#000" stroke-width="3"/>
<line x1="282.00" y1="1254.50" x2="307.50" y2="1254.50" stroke="#000" stroke-width="3"/>
<text x="251.00" y="1270.50" font-size="55" text-anchor="end" >0.000</text>
<line x1="282.00" y1="1194.55" x2="294.00" y2="1194.55" stroke="#000" stroke-width="3"/>
<line x1="282.00" y1="1134.60" x2="307.50" y2="1134.60" stroke="#000" stroke-width="3"/>
<text x="251.00" y="1150.60" font-size="55" text-anchor="end" >0.005</text>
<line x1="282.00" y1="1074.65" x2="294.00" y2="1074.65" stroke="#000" stroke-width="3"/>
<line x1="282.00" y1="1014.70" x2="307.50" y2="1014.70" stroke="#000" stroke-width="3"/>
<text x="251.00" y="1030.70" font-size="55" text-anchor="end" >0.010</text>
<line x1="282.00" y1="954.75" x2="294.00" y2="954.75" stroke="#000" stroke-width="3"/>
<line x1="282.00" y1="894.80" x2="307.50" y2="894.80" stroke="#000" stroke-width="3"/>
<text x="251.00" y="910.80" font-size="55" text-anchor="end" >0.015</text>
<line x1="282.00" y1="834.85" x2="294.00" y2="834.85" stroke="#000" stroke-width="3"/>
<line x1="282.00" y1="774.90" x2="307.50" y2="774.90" stroke="#000" stroke-width="3"/>
<text x="251.00" y="790.90" font-size="55" text-anchor="end" >0.020</text>
<line x1="282.00" y1="714.95" x2="294.00" y2="714.95" stroke="#000" stroke-width="3"/>
<line x1="282.00" y1="655.00" x2="307.50" y2="655.00" stroke="#000" stroke-width="3"/>
<text x="251.00" y="671.00" font-size="55" text-anchor="end" >0.025</text>
<line x1="282.00" y1="595.05" x2="294.00" y2="595.05" stroke="#000" stroke-width="3"/>
<line x1="282.00" y1="535.10" x2="307.50" y2="535.10" stroke="#000" stroke-width="3"/>
<text x="251.00" y="551.10" font-size="55" text-anchor="end" >0.030</text>
<line x1="282.00" y1="475.15" x2="294.00" y2="475.15" stroke="#000" stroke-width="3"/>
<line x1="282.00" y1="415.20" x2="307.50" y2="415.20" stroke="#000" stroke-width="3"/>
<text x="251.00" y="431.20" font-size="55" text-anchor="end" >0.035</text>
<line x1="282.00" y1="355.25" x2="294.00" y2="355.25" stroke="#000" stroke-width="3"/>
<line x1="282.00" y1="295.30" x2="307.50" y2="295.30" stroke="#000" stroke-width="3"/>
<text x="251.00" y="311.30" font-size="55" text-anchor="end" >0.040</text>
<line x1="282.00" y1="235.35" x2="294.00" y2="235.35" stroke="#000" stroke-width="3"/>
<line x1="282.00" y1="175.40" x2="307.50" y2="175.40" stroke="#000" stroke-width="3"/>
<text x="251.00" y="191.40" font-size="55" text-anchor="end" >0.045</text>
<line x1="282.00" y1="115.45" x2="294.00" y2="115.45" stroke="#000" stroke-width="3"/>
<text x="251.00" y="71.50" font-size="55" text-anchor="end" >0.050</text>
<text x="282.00" y="1447.00" font-size="55" text-anchor="middle" letter-spacing="0.6">0</text>
<line x1="349.52" y1="1374.20" x2="349.52" y2="1362.70" stroke="#000" stroke-width="3"/>
<line x1="418.04" y1="1374.20" x2="418.04" y2="1349.20" stroke="#000" stroke-width="3"/>
<text x="419.04" y="1447.00" font-size="55" text-anchor="middle" letter-spacing="0.6">20</text>
<line x1="486.56" y1="1374.20" x2="486.56" y2="1362.70" stroke="#000" stroke-width="3"/>
<line x1="555.08" y1="1374.20" x2="555.08" y2="1349.20" stroke="#000" stroke-width="3"/>
<text x="556.08" y="1447.00" font-size="55" text-anchor="middle" letter-spacing="0.6">40</text>
<line x1="623.60" y1="1374.20" x2="623.60" y2="1362.70" stroke="#000" stroke-width="3"/>
<line x1="692.12" y1="1374.20" x2="692.12" y2="1349.20" stroke="#000" stroke-width="3"/>
<text x="693.12" y="1447.00" font-size="55" text-anchor="middle" letter-spacing="0.6">60</text>
<line x1="760.64" y1="1374.20" x2="760.64" y2="1362.70" stroke="#000" stroke-width="3"/>
<line x1="829.16" y1="1374.20" x2="829.16" y2="1349.20" stroke="#000" stroke-width="3"/>
<text x="830.16" y="1447.00" font-size="55" text-anchor="middle" letter-spacing="0.6">80</text>
<line x1="897.68" y1="1374.20" x2="897.68" y2="1362.70" stroke="#000" stroke-width="3"/>
<line x1="966.20" y1="1374.20" x2="966.20" y2="1349.20" stroke="#000" stroke-width="3"/>
<text x="967.20" y="1447.00" font-size="55" text-anchor="middle" letter-spacing="0.6">100</text>
<line x1="1034.72" y1="1374.20" x2="1034.72" y2="1362.70" stroke="#000" stroke-width="3"/>
<line x1="1103.24" y1="1374.20" x2="1103.24" y2="1349.20" stroke="#000" stroke-width="3"/>
<text x="1104.24" y="1447.00" font-size="55" text-anchor="middle" letter-spacing="0.6">120</text>
<line x1="1171.76" y1="1374.20" x2="1171.76" y2="1362.70" stroke="#000" stroke-width="3"/>
<line x1="1240.28" y1="1374.20" x2="1240.28" y2="1349.20" stroke="#000" stroke-width="3"/>
<text x="1241.28" y="1447.00" font-size="55" text-anchor="middle" letter-spacing="0.6">140</text>
<line x1="1308.80" y1="1374.20" x2="1308.80" y2="1362.70" stroke="#000" stroke-width="3"/>
<line x1="1377.32" y1="1374.20" x2="1377.32" y2="1349.20" stroke="#000" stroke-width="3"/>
<text x="1378.32" y="1447.00" font-size="55" text-anchor="middle" letter-spacing="0.6">160</text>
<line x1="1445.84" y1="1374.20" x2="1445.84" y2="1362.70" stroke="#000" stroke-width="3"/>
<line x1="1514.36" y1="1374.20" x2="1514.36" y2="1349.20" stroke="#000" stroke-width="3"/>
<text x="1515.36" y="1447.00" font-size="55" text-anchor="middle" letter-spacing="0.6">180</text>
<line x1="1582.88" y1="1374.20" x2="1582.88" y2="1362.70" stroke="#000" stroke-width="3"/>
<line x1="1651.40" y1="1374.20" x2="1651.40" y2="1349.20" stroke="#000" stroke-width="3"/>
<text x="1652.40" y="1447.00" font-size="55" text-anchor="middle" letter-spacing="0.6">200</text>
<line x1="1719.92" y1="1374.20" x2="1719.92" y2="1362.70" stroke="#000" stroke-width="3"/>
<line x1="1788.44" y1="1374.20" x2="1788.44" y2="1349.20" stroke="#000" stroke-width="3"/>
<text x="1789.44" y="1447.00" font-size="55" text-anchor="middle" letter-spacing="0.6">220</text>
<line x1="1856.96" y1="1374.20" x2="1856.96" y2="1362.70" stroke="#000" stroke-width="3"/>
<line x1="1925.48" y1="1374.20" x2="1925.48" y2="1349.20" stroke="#000" stroke-width="3"/>
<text x="1926.48" y="1447.00" font-size="55" text-anchor="middle" letter-spacing="0.6">240</text>
<line x1="1994.00" y1="1374.20" x2="1994.00" y2="1362.70" stroke="#000" stroke-width="3"/>
<line x1="2062.52" y1="1374.20" x2="2062.52" y2="1349.20" stroke="#000" stroke-width="3"/>
<text x="2063.52" y="1447.00" font-size="55" text-anchor="middle" letter-spacing="0.6">260</text>
<line x1="2131.04" y1="1374.20" x2="2131.04" y2="1362.70" stroke="#000" stroke-width="3"/>
<line x1="2199.56" y1="1374.20" x2="2199.56" y2="1349.20" stroke="#000" stroke-width="3"/>
<text x="2200.56" y="1447.00" font-size="55" text-anchor="middle" letter-spacing="0.6">280</text>
<line x1="2268.08" y1="1374.20" x2="2268.08" y2="1362.70" stroke="#000" stroke-width="3"/>
<text x="2337.60" y="1447.00" font-size="55" text-anchor="middle" letter-spacing="0.6">300</text>
<rect x="282" y="55.3" width="2055.70" height="1318.90" fill="none" stroke="#000" stroke-width="3"/>
<text x="1307.50" y="1553.00" font-size="69.5" text-anchor="middle" >Frequency(Hz)</text>
<text x="80" y="715.5" font-size="70.5" text-anchor="middle" transform="rotate(-90 80 715.5)">Velocity(cm/s)</text>
<line x1="1777" y1="185.5" x2="1913" y2="185.5" stroke="#0000ff" stroke-width="4.2" stroke-linecap="round"/>
<text x="1946" y="209" font-size="62"><tspan font-style="italic">z</tspan> direction</text>
<text x="1205.4" y="1681" font-size="76" text-anchor="middle">(<tspan font-weight="bold">a</tspan>)</text>
<line x1="276.50" y1="2232.60" x2="304.00" y2="2232.60" stroke="#000" stroke-width="3"/>
<line x1="276.50" y1="2175.65" x2="290.00" y2="2175.65" stroke="#000" stroke-width="3"/>
<line x1="276.50" y1="2118.70" x2="304.00" y2="2118.70" stroke="#000" stroke-width="3"/>
<line x1="276.50" y1="2061.75" x2="290.00" y2="2061.75" stroke="#000" stroke-width="3"/>
<line x1="276.50" y1="2004.80" x2="304.00" y2="2004.80" stroke="#000" stroke-width="3"/>
<line x1="276.50" y1="1947.85" x2="290.00" y2="1947.85" stroke="#000" stroke-width="3"/>
<line x1="276.50" y1="1890.90" x2="304.00" y2="1890.90" stroke="#000" stroke-width="3"/>
<line x1="276.50" y1="1833.95" x2="290.00" y2="1833.95" stroke="#000" stroke-width="3"/>
<line x1="276.50" y1="1777.00" x2="304.00" y2="1777.00" stroke="#000" stroke-width="3"/>
<text x="246.00" y="1795.00" font-size="60" text-anchor="end" >0.8</text>
<text x="246.00" y="1908.90" font-size="60" text-anchor="end" >0.4</text>
<text x="246.00" y="2022.80" font-size="60" text-anchor="end" >0</text>
<text x="246.00" y="2136.70" font-size="60" text-anchor="end" >-0.4</text>
<text x="246.00" y="2250.60" font-size="60" text-anchor="end" >-0.8</text>
<line x1="404.25" y1="2261.40" x2="404.25" y2="2247.40" stroke="#000" stroke-width="3"/>
<line x1="533.50" y1="2261.40" x2="533.50" y2="2233.40" stroke="#000" stroke-width="3"/>
<line x1="662.75" y1="2261.40" x2="662.75" y2="2247.40" stroke="#000" stroke-width="3"/>
<line x1="792.00" y1="2261.40" x2="792.00" y2="2233.40" stroke="#000" stroke-width="3"/>
<line x1="921.25" y1="2261.40" x2="921.25" y2="2247.40" stroke="#000" stroke-width="3"/>
<line x1="1050.50" y1="2261.40" x2="1050.50" y2="2233.40" stroke="#000" stroke-width="3"/>
<line x1="1179.75" y1="2261.40" x2="1179.75" y2="2247.40" stroke="#000" stroke-width="3"/>
<line x1="1309.00" y1="2261.40" x2="1309.00" y2="2233.40" stroke="#000" stroke-width="3"/>
<line x1="1438.25" y1="2261.40" x2="1438.25" y2="2247.40" stroke="#000" stroke-width="3"/>
<line x1="1567.50" y1="2261.40" x2="1567.50" y2="2233.40" stroke="#000" stroke-width="3"/>
<line x1="1696.75" y1="2261.40" x2="1696.75" y2="2247.40" stroke="#000" stroke-width="3"/>
<line x1="1826.00" y1="2261.40" x2="1826.00" y2="2233.40" stroke="#000" stroke-width="3"/>
<line x1="1955.25" y1="2261.40" x2="1955.25" y2="2247.40" stroke="#000" stroke-width="3"/>
<line x1="2084.50" y1="2261.40" x2="2084.50" y2="2233.40" stroke="#000" stroke-width="3"/>
<line x1="2213.75" y1="2261.40" x2="2213.75" y2="2247.40" stroke="#000" stroke-width="3"/>
<rect x="276.5" y="1747.5" width="2065.10" height="513.90" fill="none" stroke="#000" stroke-width="3"/>
<line x1="276.50" y1="2710.60" x2="304.00" y2="2710.60" stroke="#000" stroke-width="3"/>
<line x1="276.50" y1="2662.45" x2="290.00" y2="2662.45" stroke="#000" stroke-width="3"/>
<line x1="276.50" y1="2614.30" x2="304.00" y2="2614.30" stroke="#000" stroke-width="3"/>
<line x1="276.50" y1="2566.15" x2="290.00" y2="2566.15" stroke="#000" stroke-width="3"/>
<line x1="276.50" y1="2518.00" x2="304.00" y2="2518.00" stroke="#000" stroke-width="3"/>
<line x1="276.50" y1="2469.85" x2="290.00" y2="2469.85" stroke="#000" stroke-width="3"/>
<line x1="276.50" y1="2421.70" x2="304.00" y2="2421.70" stroke="#000" stroke-width="3"/>
<line x1="276.50" y1="2373.55" x2="290.00" y2="2373.55" stroke="#000" stroke-width="3"/>
<line x1="276.50" y1="2325.40" x2="304.00" y2="2325.40" stroke="#000" stroke-width="3"/>
<text x="246.00" y="2343.40" font-size="60" text-anchor="end" >0.3</text>
<text x="246.00" y="2439.70" font-size="60" text-anchor="end" >0.15</text>
<text x="246.00" y="2536.00" font-size="60" text-anchor="end" >0.0</text>
<text x="246.00" y="2632.30" font-size="60" text-anchor="end" >-0.15</text>
<text x="246.00" y="2728.60" font-size="60" text-anchor="end" >-0.3</text>
<line x1="404.25" y1="2774.40" x2="404.25" y2="2760.40" stroke="#000" stroke-width="3"/>
<line x1="533.50" y1="2774.40" x2="533.50" y2="2746.40" stroke="#000" stroke-width="3"/>
<line x1="662.75" y1="2774.40" x2="662.75" y2="2760.40" stroke="#000" stroke-width="3"/>
<line x1="792.00" y1="2774.40" x2="792.00" y2="2746.40" stroke="#000" stroke-width="3"/>
<line x1="921.25" y1="2774.40" x2="921.25" y2="2760.40" stroke="#000" stroke-width="3"/>
<line x1="1050.50" y1="2774.40" x2="1050.50" y2="2746.40" stroke="#000" stroke-width="3"/>
<line x1="1179.75" y1="2774.40" x2="1179.75" y2="2760.40" stroke="#000" stroke-width="3"/>
<line x1="1309.00" y1="2774.40" x2="1309.00" y2="2746.40" stroke="#000" stroke-width="3"/>
<line x1="1438.25" y1="2774.40" x2="1438.25" y2="2760.40" stroke="#000" stroke-width="3"/>
<line x1="1567.50" y1="2774.40" x2="1567.50" y2="2746.40" stroke="#000" stroke-width="3"/>
<line x1="1696.75" y1="2774.40" x2="1696.75" y2="2760.40" stroke="#000" stroke-width="3"/>
<line x1="1826.00" y1="2774.40" x2="1826.00" y2="2746.40" stroke="#000" stroke-width="3"/>
<line x1="1955.25" y1="2774.40" x2="1955.25" y2="2760.40" stroke="#000" stroke-width="3"/>
<line x1="2084.50" y1="2774.40" x2="2084.50" y2="2746.40" stroke="#000" stroke-width="3"/>
<line x1="2213.75" y1="2774.40" x2="2213.75" y2="2760.40" stroke="#000" stroke-width="3"/>
<rect x="276.5" y="2261.4" width="2065.10" height="513.00" fill="none" stroke="#000" stroke-width="3"/>
<line x1="276.50" y1="3244.80" x2="304.00" y2="3244.80" stroke="#000" stroke-width="3"/>
<line x1="276.50" y1="3191.33" x2="290.00" y2="3191.33" stroke="#000" stroke-width="3"/>
<line x1="276.50" y1="3137.85" x2="304.00" y2="3137.85" stroke="#000" stroke-width="3"/>
<line x1="276.50" y1="3084.38" x2="290.00" y2="3084.38" stroke="#000" stroke-width="3"/>
<line x1="276.50" y1="3030.90" x2="304.00" y2="3030.90" stroke="#000" stroke-width="3"/>
<line x1="276.50" y1="2977.43" x2="290.00" y2="2977.43" stroke="#000" stroke-width="3"/>
<line x1="276.50" y1="2923.95" x2="304.00" y2="2923.95" stroke="#000" stroke-width="3"/>
<line x1="276.50" y1="2870.47" x2="290.00" y2="2870.47" stroke="#000" stroke-width="3"/>
<line x1="276.50" y1="2817.00" x2="304.00" y2="2817.00" stroke="#000" stroke-width="3"/>
<text x="246.00" y="2835.00" font-size="60" text-anchor="end" >0.5</text>
<text x="246.00" y="2941.95" font-size="60" text-anchor="end" >0.25</text>
<text x="246.00" y="3048.90" font-size="60" text-anchor="end" >0</text>
<text x="246.00" y="3155.85" font-size="60" text-anchor="end" >-0.25</text>
<text x="246.00" y="3262.80" font-size="60" text-anchor="end" >-0.5</text>
<line x1="404.25" y1="3288.30" x2="404.25" y2="3274.30" stroke="#000" stroke-width="3"/>
<line x1="533.50" y1="3288.30" x2="533.50" y2="3260.30" stroke="#000" stroke-width="3"/>
<line x1="662.75" y1="3288.30" x2="662.75" y2="3274.30" stroke="#000" stroke-width="3"/>
<line x1="792.00" y1="3288.30" x2="792.00" y2="3260.30" stroke="#000" stroke-width="3"/>
<line x1="921.25" y1="3288.30" x2="921.25" y2="3274.30" stroke="#000" stroke-width="3"/>
<line x1="1050.50" y1="3288.30" x2="1050.50" y2="3260.30" stroke="#000" stroke-width="3"/>
<line x1="1179.75" y1="3288.30" x2="1179.75" y2="3274.30" stroke="#000" stroke-width="3"/>
<line x1="1309.00" y1="3288.30" x2="1309.00" y2="3260.30" stroke="#000" stroke-width="3"/>
<line x1="1438.25" y1="3288.30" x2="1438.25" y2="3274.30" stroke="#000" stroke-width="3"/>
<line x1="1567.50" y1="3288.30" x2="1567.50" y2="3260.30" stroke="#000" stroke-width="3"/>
<line x1="1696.75" y1="3288.30" x2="1696.75" y2="3274.30" stroke="#000" stroke-width="3"/>
<line x1="1826.00" y1="3288.30" x2="1826.00" y2="3260.30" stroke="#000" stroke-width="3"/>
<line x1="1955.25" y1="3288.30" x2="1955.25" y2="3274.30" stroke="#000" stroke-width="3"/>
<line x1="2084.50" y1="3288.30" x2="2084.50" y2="3260.30" stroke="#000" stroke-width="3"/>
<line x1="2213.75" y1="3288.30" x2="2213.75" y2="3274.30" stroke="#000" stroke-width="3"/>
<rect x="276.5" y="2774.4" width="2065.10" height="513.90" fill="none" stroke="#000" stroke-width="3"/>
<text x="275.50" y="3364.00" font-size="60" text-anchor="middle" >-0.5</text>
<text x="533.50" y="3364.00" font-size="60" text-anchor="middle" >-0.25</text>
<text x="792.00" y="3364.00" font-size="60" text-anchor="middle" >0</text>
<text x="1050.50" y="3364.00" font-size="60" text-anchor="middle" >0.25</text>
<text x="1309.00" y="3364.00" font-size="60" text-anchor="middle" >0.5</text>
<text x="1567.50" y="3364.00" font-size="60" text-anchor="middle" >0.75</text>
<text x="1826.00" y="3364.00" font-size="60" text-anchor="middle" >1</text>
<text x="2084.50" y="3364.00" font-size="60" text-anchor="middle" >1.25</text>
<text x="2341.70" y="3364.00" font-size="60" text-anchor="middle" >1.5</text>
<text x="1305.00" y="3450.00" font-size="75" text-anchor="middle" >Time(s)</text>
<text x="98" y="2004.2" font-size="76" text-anchor="middle" transform="rotate(-90 98 2004.2)">Velocity(cm/s)</text>
<text x="90" y="2511.0" font-size="76" text-anchor="middle" transform="rotate(-90 90 2511.0)">Velocity(cm/s)</text>
<text x="90" y="3048.3" font-size="76" text-anchor="middle" transform="rotate(-90 90 3048.3)">Velocity(cm/s)</text>
<text x="1205" y="3584.5" font-size="76" text-anchor="middle">(<tspan font-weight="bold">b</tspan>)</text>
<line x1="1821" y1="1844" x2="1973" y2="1844" stroke="#ff0000" stroke-width="4" stroke-linecap="round"/>
<text x="1987" y="1866" font-size="67"><tspan font-style="italic">x</tspan> direction</text>
<line x1="1817" y1="2338.5" x2="1953" y2="2338.5" stroke="#00ff00" stroke-width="4" stroke-linecap="round"/>
<text x="1985.5" y="2362.5" font-size="67"><tspan font-style="italic">y</tspan> direction</text>
<line x1="1824" y1="2859.7" x2="1961" y2="2859.7" stroke="#0000ff" stroke-width="4" stroke-linecap="round"/>
<text x="1991.5" y="2884.5" font-size="67"><tspan font-style="italic">z</tspan> direction</text>
</svg></body></html>
